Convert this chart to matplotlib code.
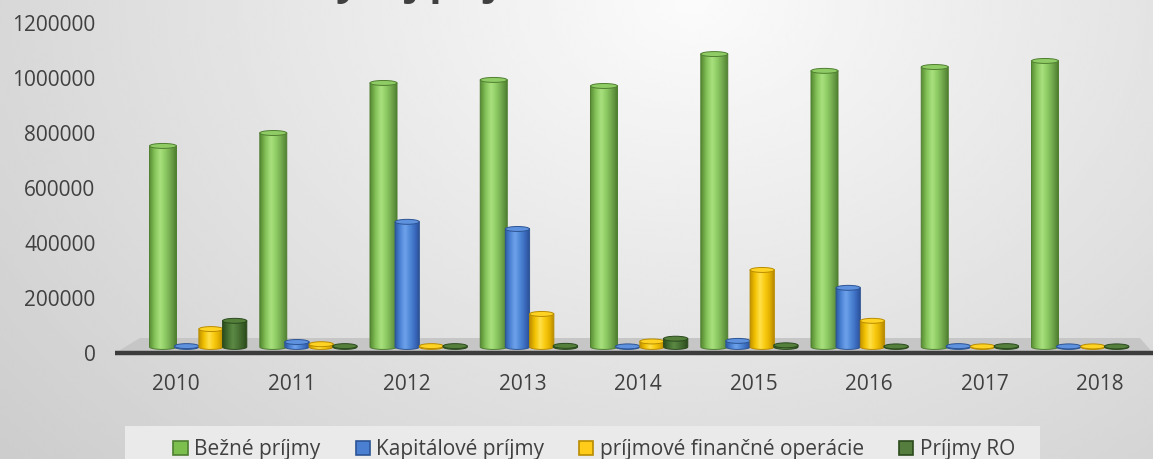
import numpy as np
import matplotlib
matplotlib.use('Agg')
import matplotlib.pyplot as plt
from matplotlib.colors import LinearSegmentedColormap
from matplotlib.patches import Ellipse, Polygon, Patch, Rectangle

plt.rcParams['font.family'] = ['Open Sans', 'DejaVu Sans']

# data
years = ['2010', '2011', '2012', '2013', '2014', '2015', '2016', '2017', '2018']
bezne = [731000, 778000, 960000, 971000, 949000, 1065000, 1004000, 1018000, 1040000]
kapitalove = [3000, 18000, 455000, 429000, 2000, 22000, 215000, 3000, 2000]
financne = [65000, 10000, 3000, 120000, 20000, 280000, 95000, 2000, 2000]
prijmy_ro = [95000, 3000, 3000, 4000, 30000, 6000, 2000, 3000, 2000]
series_names = ['Bežné príjmy', 'Kapitálové príjmy', 'príjmové finančné operácie', 'Príjmy RO']

# colours: side gradient, top, edge, legend fill
styles = [
    (['#558a33', '#86c35a', '#a8e17e', '#8cc962', '#6ea34a', '#4a7a2c'], '#90cc66', '#4f7f30', '#7cbf4f'),
    (['#2c5aa2', '#4c83d4', '#6fa2ec', '#5088d6', '#3b6cc0', '#2a4e92'], '#5f92de', '#2c5494', '#4a7fd2'),
    (['#c39300', '#f2c200', '#ffe04a', '#f9cb10', '#e2b000', '#b08300'], '#ffd324', '#b98c00', '#ffcc1a'),
    (['#2c4e1e', '#467132', '#5d8a45', '#4b7536', '#3a5e29', '#28431a'], '#54803c', '#2b4a1d', '#557d3e'),
]

W, H = 1153, 459
fig = plt.figure(figsize=(W / 100, H / 100), dpi=100)

# background gradient
bg = fig.add_axes([0, 0, 1, 1], zorder=-10)
yy, xx = np.mgrid[0:1:230j, 0:1:580j]
d = np.sqrt(((xx - 0.6) / 0.65) ** 2 + (yy / 1.25) ** 2)
bg.imshow(0.985 - 0.15 * d, cmap='gray', vmin=0, vmax=1, extent=[0, 1, 0, 1],
          origin='upper', aspect='auto', interpolation='bicubic')
bg.set_axis_off()

ax = fig.add_axes([115 / W, (H - 353) / H, (W - 115) / W, 330 / H])
ax.set_facecolor('none')
x_lo, x_hi = (115 - 163) / 110.25, (W - 163) / 110.25
ax.set_xlim(x_lo, x_hi)
ax.set_ylim(0, 1200000)

# floor
floor_back = 54500
ax.add_patch(Polygon([(x_lo, 0), (x_hi, 0), ((1140 - 163) / 110.25, floor_back),
                      ((140 - 163) / 110.25, floor_back)], closed=True,
                     facecolor='#c6c6c6', edgecolor='none', zorder=1))
ax.plot([x_lo, x_hi], [0, 0], color='#3c3c3c', lw=3.2, solid_capstyle='butt',
        clip_on=False, zorder=2)

lift = 22000
eh = 18000
offsets = [0.0, 0.215, 0.435, 0.65]
widths = [0.245, 0.22, 0.22, 0.22]
all_series = [bezne, kapitalove, financne, prijmy_ro]

theta = np.linspace(np.pi, 2 * np.pi, 40)
for s, vals in enumerate(all_series):
    grad_cols, top_col, edge_col, _ = styles[s]
    cmap = LinearSegmentedColormap.from_list('c%d' % s, grad_cols)
    w = widths[s]
    for i, v in enumerate(vals):
        xc = i + offsets[s]
        x0, x1 = xc - w / 2, xc + w / 2
        top = lift + v
        z = 3 + s * 0.1 + i * 0.001
        arc = np.column_stack([xc + w / 2 * np.cos(theta), lift + eh / 2 * np.sin(theta)])
        pts = np.vstack([[(x0, top), (x0, lift)], arc, [(x1, lift), (x1, top)]])
        side = Polygon(pts, closed=True, facecolor='none', edgecolor=edge_col, lw=0.7, zorder=z + 0.01)
        ax.add_patch(side)
        im = ax.imshow(np.linspace(0, 1, 64)[None, :], cmap=cmap, aspect='auto',
                       extent=(x0, x1, lift - eh / 2, top), interpolation='bicubic', zorder=z)
        im.set_clip_path(side)
        ax.add_patch(Ellipse((xc, top), w, eh, facecolor=top_col, edgecolor=edge_col,
                             lw=0.7, zorder=z + 0.02))

ax.set_xlim(x_lo, x_hi)
ax.set_ylim(0, 1200000)

ax.set_xticks([0.118 + 1.0476 * i for i in range(len(years))])
ax.set_xticklabels(years)
ax.set_yticks(np.arange(0, 1200001, 200000))
ax.set_yticklabels([str(int(t)) for t in np.arange(0, 1200001, 200000)])
ax.tick_params(axis='x', length=0, pad=15, labelsize=15, labelcolor='#404040')
ax.tick_params(axis='y', length=0, pad=14, labelsize=15, labelcolor='#404040')
for sp in ax.spines.values():
    sp.set_visible(False)

# title, mostly cut off by the top edge
fig.text(310 / W, 1 + 4.7 / H, 'Vývoj príjmov', fontsize=29, fontweight='bold',
         color='#404040', ha='left', va='baseline')

# legend
fig.patches.append(Rectangle((125 / W, 0), (1040 - 125) / W, (H - 426) / H,
                             transform=fig.transFigure, facecolor='#eaeaea',
                             edgecolor='none', zorder=-5))
handles = [Patch(facecolor=st[3], edgecolor=st[2], lw=1.2) for st in styles]
fig.legend(handles, series_names, ncol=4, loc='center left', frameon=False,
           bbox_to_anchor=(163 / W, (H - 450) / H), borderpad=0, fontsize=15,
           handlelength=0.68, handleheight=0.68, handletextpad=0.3,
           columnspacing=1.7, labelcolor='#404040')

fig.savefig('out.png', dpi=100)
